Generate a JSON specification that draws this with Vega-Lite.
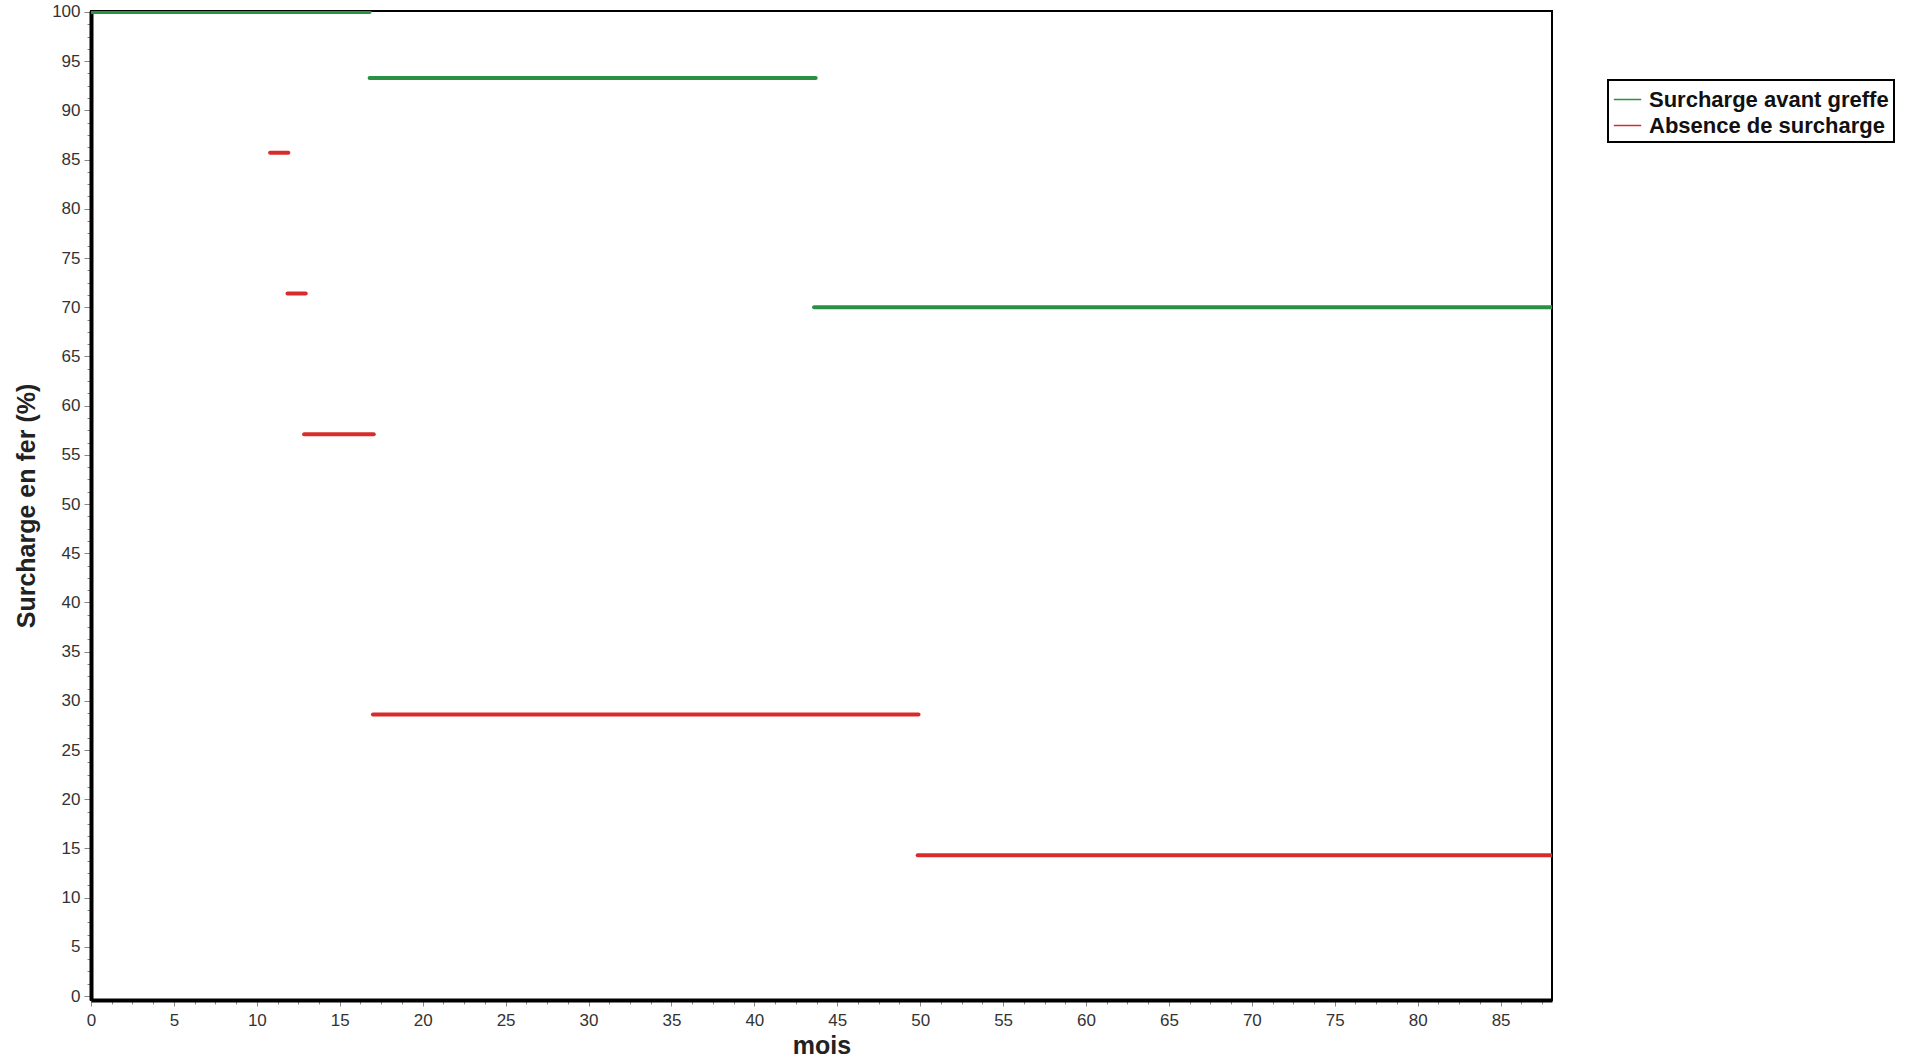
{
  "$schema": "https://vega.github.io/schema/vega-lite/v6.json",
  "autosize": {"type": "none"},
  "width": 1461,
  "height": 989,
  "padding": {"left": 91, "top": 11, "right": 371, "bottom": 61},
  "background": "white",
  "config": {
    "font": "Liberation Sans",
    "view": {"stroke": "black", "strokeWidth": 2}
  },
  "data": {
    "values": [
      {"groupe": "Absence de surcharge", "debut": 0, "fin": 10.8, "pct": 100},
      {"groupe": "Absence de surcharge", "debut": 10.8, "fin": 11.9, "pct": 85.7},
      {"groupe": "Absence de surcharge", "debut": 11.85, "fin": 12.95, "pct": 71.4},
      {"groupe": "Absence de surcharge", "debut": 12.85, "fin": 17.05, "pct": 57.1},
      {"groupe": "Absence de surcharge", "debut": 17.0, "fin": 49.9, "pct": 28.6},
      {"groupe": "Absence de surcharge", "debut": 49.85, "fin": 88.1, "pct": 14.3},
      {"groupe": "Surcharge avant greffe", "debut": 0, "fin": 16.8, "pct": 100},
      {"groupe": "Surcharge avant greffe", "debut": 16.8, "fin": 43.7, "pct": 93.3},
      {"groupe": "Surcharge avant greffe", "debut": 43.6, "fin": 88.1, "pct": 70.0}
    ]
  },
  "mark": {"type": "rule", "strokeWidth": 4, "strokeCap": "round", "clip": true},
  "encoding": {
    "x": {
      "field": "debut", "type": "quantitative",
      "scale": {"domain": [0, 88.1], "nice": false, "zero": false},
      "axis": {
        "title": "mois", "titleFontSize": 25, "titleFontWeight": "bold", "titleColor": "#222", "titlePadding": 5,
        "values": [0,1.25,2.5,3.75,5,6.25,7.5,8.75,10,11.25,12.5,13.75,15,16.25,17.5,18.75,20,21.25,22.5,23.75,25,26.25,27.5,28.75,30,31.25,32.5,33.75,35,36.25,37.5,38.75,40,41.25,42.5,43.75,45,46.25,47.5,48.75,50,51.25,52.5,53.75,55,56.25,57.5,58.75,60,61.25,62.5,63.75,65,66.25,67.5,68.75,70,71.25,72.5,73.75,75,76.25,77.5,78.75,80,81.25,82.5,83.75,85,86.25,87.5],
        "labelExpr": "datum.value % 5 === 0 ? datum.label : ''",
        "labelOverlap": false, "labelFlush": false,
        "labelFontSize": 17, "labelColor": "#333", "labelPadding": 6,
        "tickSize": {"condition": {"test": "datum.value % 5 === 0", "value": 6}, "value": 4},
        "tickColor": "#888", "tickWidth": 1,
        "domainColor": "black", "domainWidth": 4,
        "grid": false
      }
    },
    "x2": {"field": "fin"},
    "y": {
      "field": "pct", "type": "quantitative",
      "scale": {"domain": [-0.4, 100.1], "nice": false, "zero": false},
      "axis": {
        "title": "Surcharge en fer (%)", "titleFontSize": 25, "titleFontWeight": "bold", "titleColor": "#222", "titlePadding": 12,
        "values": [0,1.25,2.5,3.75,5,6.25,7.5,8.75,10,11.25,12.5,13.75,15,16.25,17.5,18.75,20,21.25,22.5,23.75,25,26.25,27.5,28.75,30,31.25,32.5,33.75,35,36.25,37.5,38.75,40,41.25,42.5,43.75,45,46.25,47.5,48.75,50,51.25,52.5,53.75,55,56.25,57.5,58.75,60,61.25,62.5,63.75,65,66.25,67.5,68.75,70,71.25,72.5,73.75,75,76.25,77.5,78.75,80,81.25,82.5,83.75,85,86.25,87.5,88.75,90,91.25,92.5,93.75,95,96.25,97.5,98.75,100],
        "labelExpr": "datum.value % 5 === 0 ? datum.label : ''",
        "labelOverlap": false, "labelFlush": false,
        "labelFontSize": 17, "labelColor": "#333", "labelPadding": 4,
        "tickSize": {"condition": {"test": "datum.value % 5 === 0", "value": 7}, "value": 4},
        "tickColor": "#888", "tickWidth": 1,
        "domainColor": "black", "domainWidth": 4,
        "grid": false
      }
    },
    "color": {
      "field": "groupe", "type": "nominal",
      "scale": {"domain": ["Surcharge avant greffe", "Absence de surcharge"], "range": ["#2b9142", "#d82c2c"]},
      "legend": {
        "title": null, "orient": "none", "legendX": 1517, "legendY": 69,
        "symbolType": "stroke", "symbolStrokeWidth": 1.5, "symbolSize": 750, "labelOffset": 7,
        "labelFontSize": 22, "labelFontWeight": "bold", "labelColor": "#111", "labelLimit": 400,
        "strokeColor": "black", "fillColor": "white", "padding": 5, "rowPadding": -3,
        "encode": {"legend": {"update": {"strokeWidth": {"value": 2}}}}
      }
    }
  }
}
